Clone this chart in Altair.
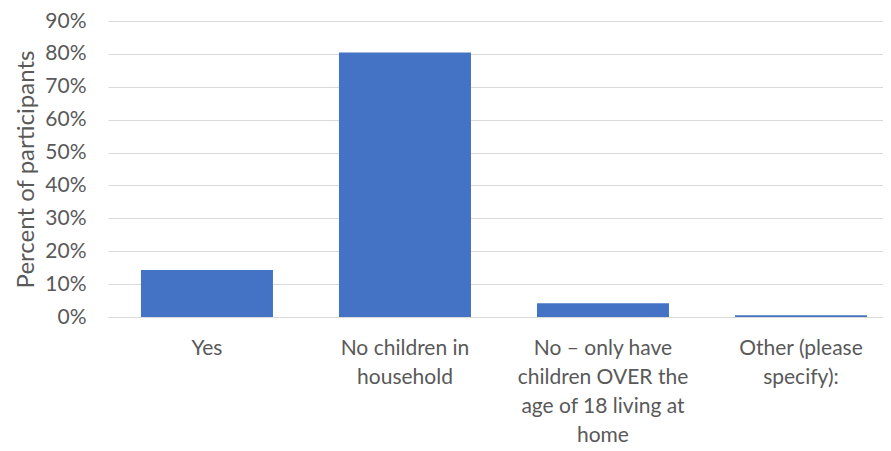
import altair as alt
import pandas as pd

categories = [
    "Yes",
    "No children in household",
    "No \u2013 only have children OVER the age of 18 living at home",
    "Other (please specify):",
]
label_lines = [
    "Yes",
    "No children in\nhousehold",
    "No \u2013 only have\nchildren OVER the\nage of 18 living at\nhome",
    "Other (please\nspecify):",
]
values = [0.143, 0.804, 0.042, 0.005]
y_ticks = [0, 0.1, 0.2, 0.3, 0.4, 0.5, 0.6, 0.7, 0.8, 0.9]

df = pd.DataFrame({"category": label_lines, "value": values})

FONT = "Lato"
GREY = "#595959"

chart = (
    alt.Chart(df)
    .mark_bar(color="#4472C4")
    .encode(
        x=alt.X(
            "category:N",
            sort=label_lines,
            title=None,
            scale=alt.Scale(paddingInner=1 / 3, paddingOuter=0.1237, align=0.673),
            axis=alt.Axis(
                labelAngle=0,
                labelAlign="center",
                labelBaseline="top",
                labelExpr="split(datum.label, '\\n')",
                labelLineHeight=29,
                labelFontSize=21,
                labelFont=FONT,
                labelColor=GREY,
                labelPadding=20,
                ticks=False,
                domainColor="#D9D9D9",
                domainWidth=1,
                labelLimit=300,
            ),
        ),
        y=alt.Y(
            "value:Q",
            title="Percent of participants",
            scale=alt.Scale(domain=[0, 0.9], nice=False),
            axis=alt.Axis(
                values=y_ticks,
                format=".0%",
                ticks=False,
                domain=False,
                gridColor="#D9D9D9",
                gridWidth=1,
                labelFontSize=21,
                labelFont=FONT,
                labelColor=GREY,
                labelPadding=22,
                titleFont=FONT,
                titleFontSize=24,
                titleFontWeight="normal",
                titleColor=GREY,
                titlePadding=6,
            ),
        ),
    )
    .properties(
        width=775,
        height=296,
        autosize="none",
        padding={"left": 100, "top": 13, "right": 0, "bottom": 128},
    )
    .configure_view(stroke=None)
)

chart.save("out.html", embed_options={"renderer": "svg", "actions": False})
